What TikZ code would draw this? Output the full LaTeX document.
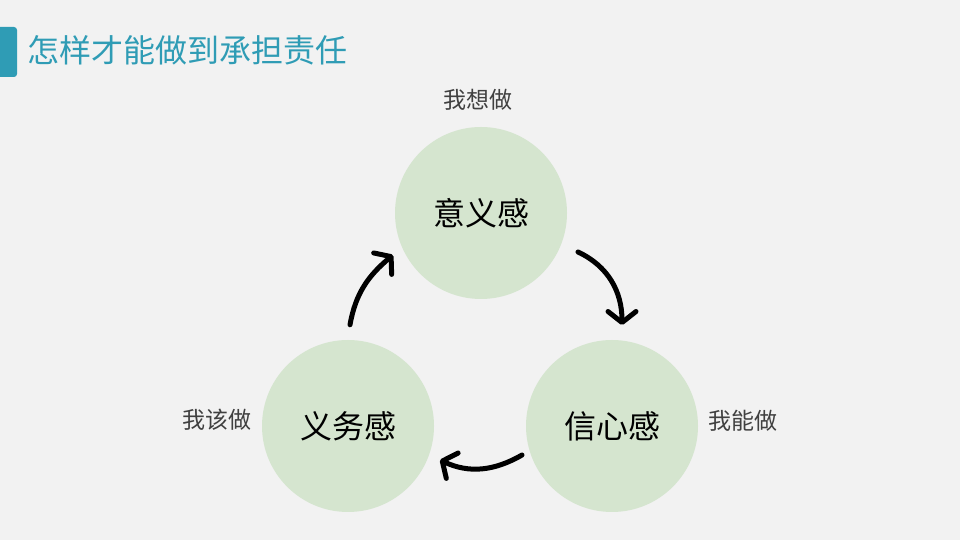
\documentclass[tikz,border=0pt]{standalone}
\usepackage{fontspec}
\setmainfont{Noto Sans CJK SC}
\usetikzlibrary{arrows.meta}
\definecolor{bgcol}{HTML}{F2F2F2}
\definecolor{teal}{HTML}{2F9CB5}
\definecolor{leaf}{HTML}{D5E5CF}
\definecolor{labgray}{HTML}{404040}
\newcommand{\fs}[1]{\fontsize{#1}{#1}\selectfont}

\begin{document}
\begin{tikzpicture}[x=1pt,y=1pt]
        %
        % `sense' is used for the three green circles.
        % `want' is used for the grey side labels.
        % `flow' is used for the curved black arrows.
        \tikzstyle{sense} = [circle,fill=leaf,minimum size=172pt,inner sep=0pt,font=\fs{32}]
        \tikzstyle{want} = [text=labgray,font=\fs{23}]
        \tikzstyle{flow} = [line width=5pt,line cap=round,-{Straight Barb[round,length=11pt,width=28pt]}]
        %
        % Background
        \fill[bgcol] (0,0) rectangle (960,540);
        \useasboundingbox (0,0) rectangle (960,540);
        %
        % Title
        \fill[teal,rounded corners=3pt] (-5,463) rectangle (17,513);
        \node[anchor=west,text=teal,font=\fs{32}] (title) at (24,490) {怎样才能做到承担责任};
        %
        % Circles
        \node[sense] (yiyi) at (481,327) {意义感};
        \node[sense] (yiwu) at (348,114) {义务感};
        \node[sense] (xinxin) at (612,114) {信心感};
        %
        % Labels
        \node[want] (xiang) at (478,440) {我想做};
        \node[want] (gai) at (217,120) {我该做};
        \node[want] (neng) at (743,119) {我能做};
        %
        % Arrows
        \draw[flow] ([shift={(2,15)}]yiwu.north) to[out=80,in=-140] ([shift={(-88,-42)}]yiyi.center);
        \draw[flow] ([shift={(97,-39)}]yiyi.center) to[out=-25,in=90] ([shift={(10,101)}]xinxin.center);
        \draw[flow] ([shift={(-90,-29)}]xinxin.center) to[out=-150,in=-25] ([shift={(92,-34)}]yiwu.center);
        %
\end{tikzpicture}
\end{document}
